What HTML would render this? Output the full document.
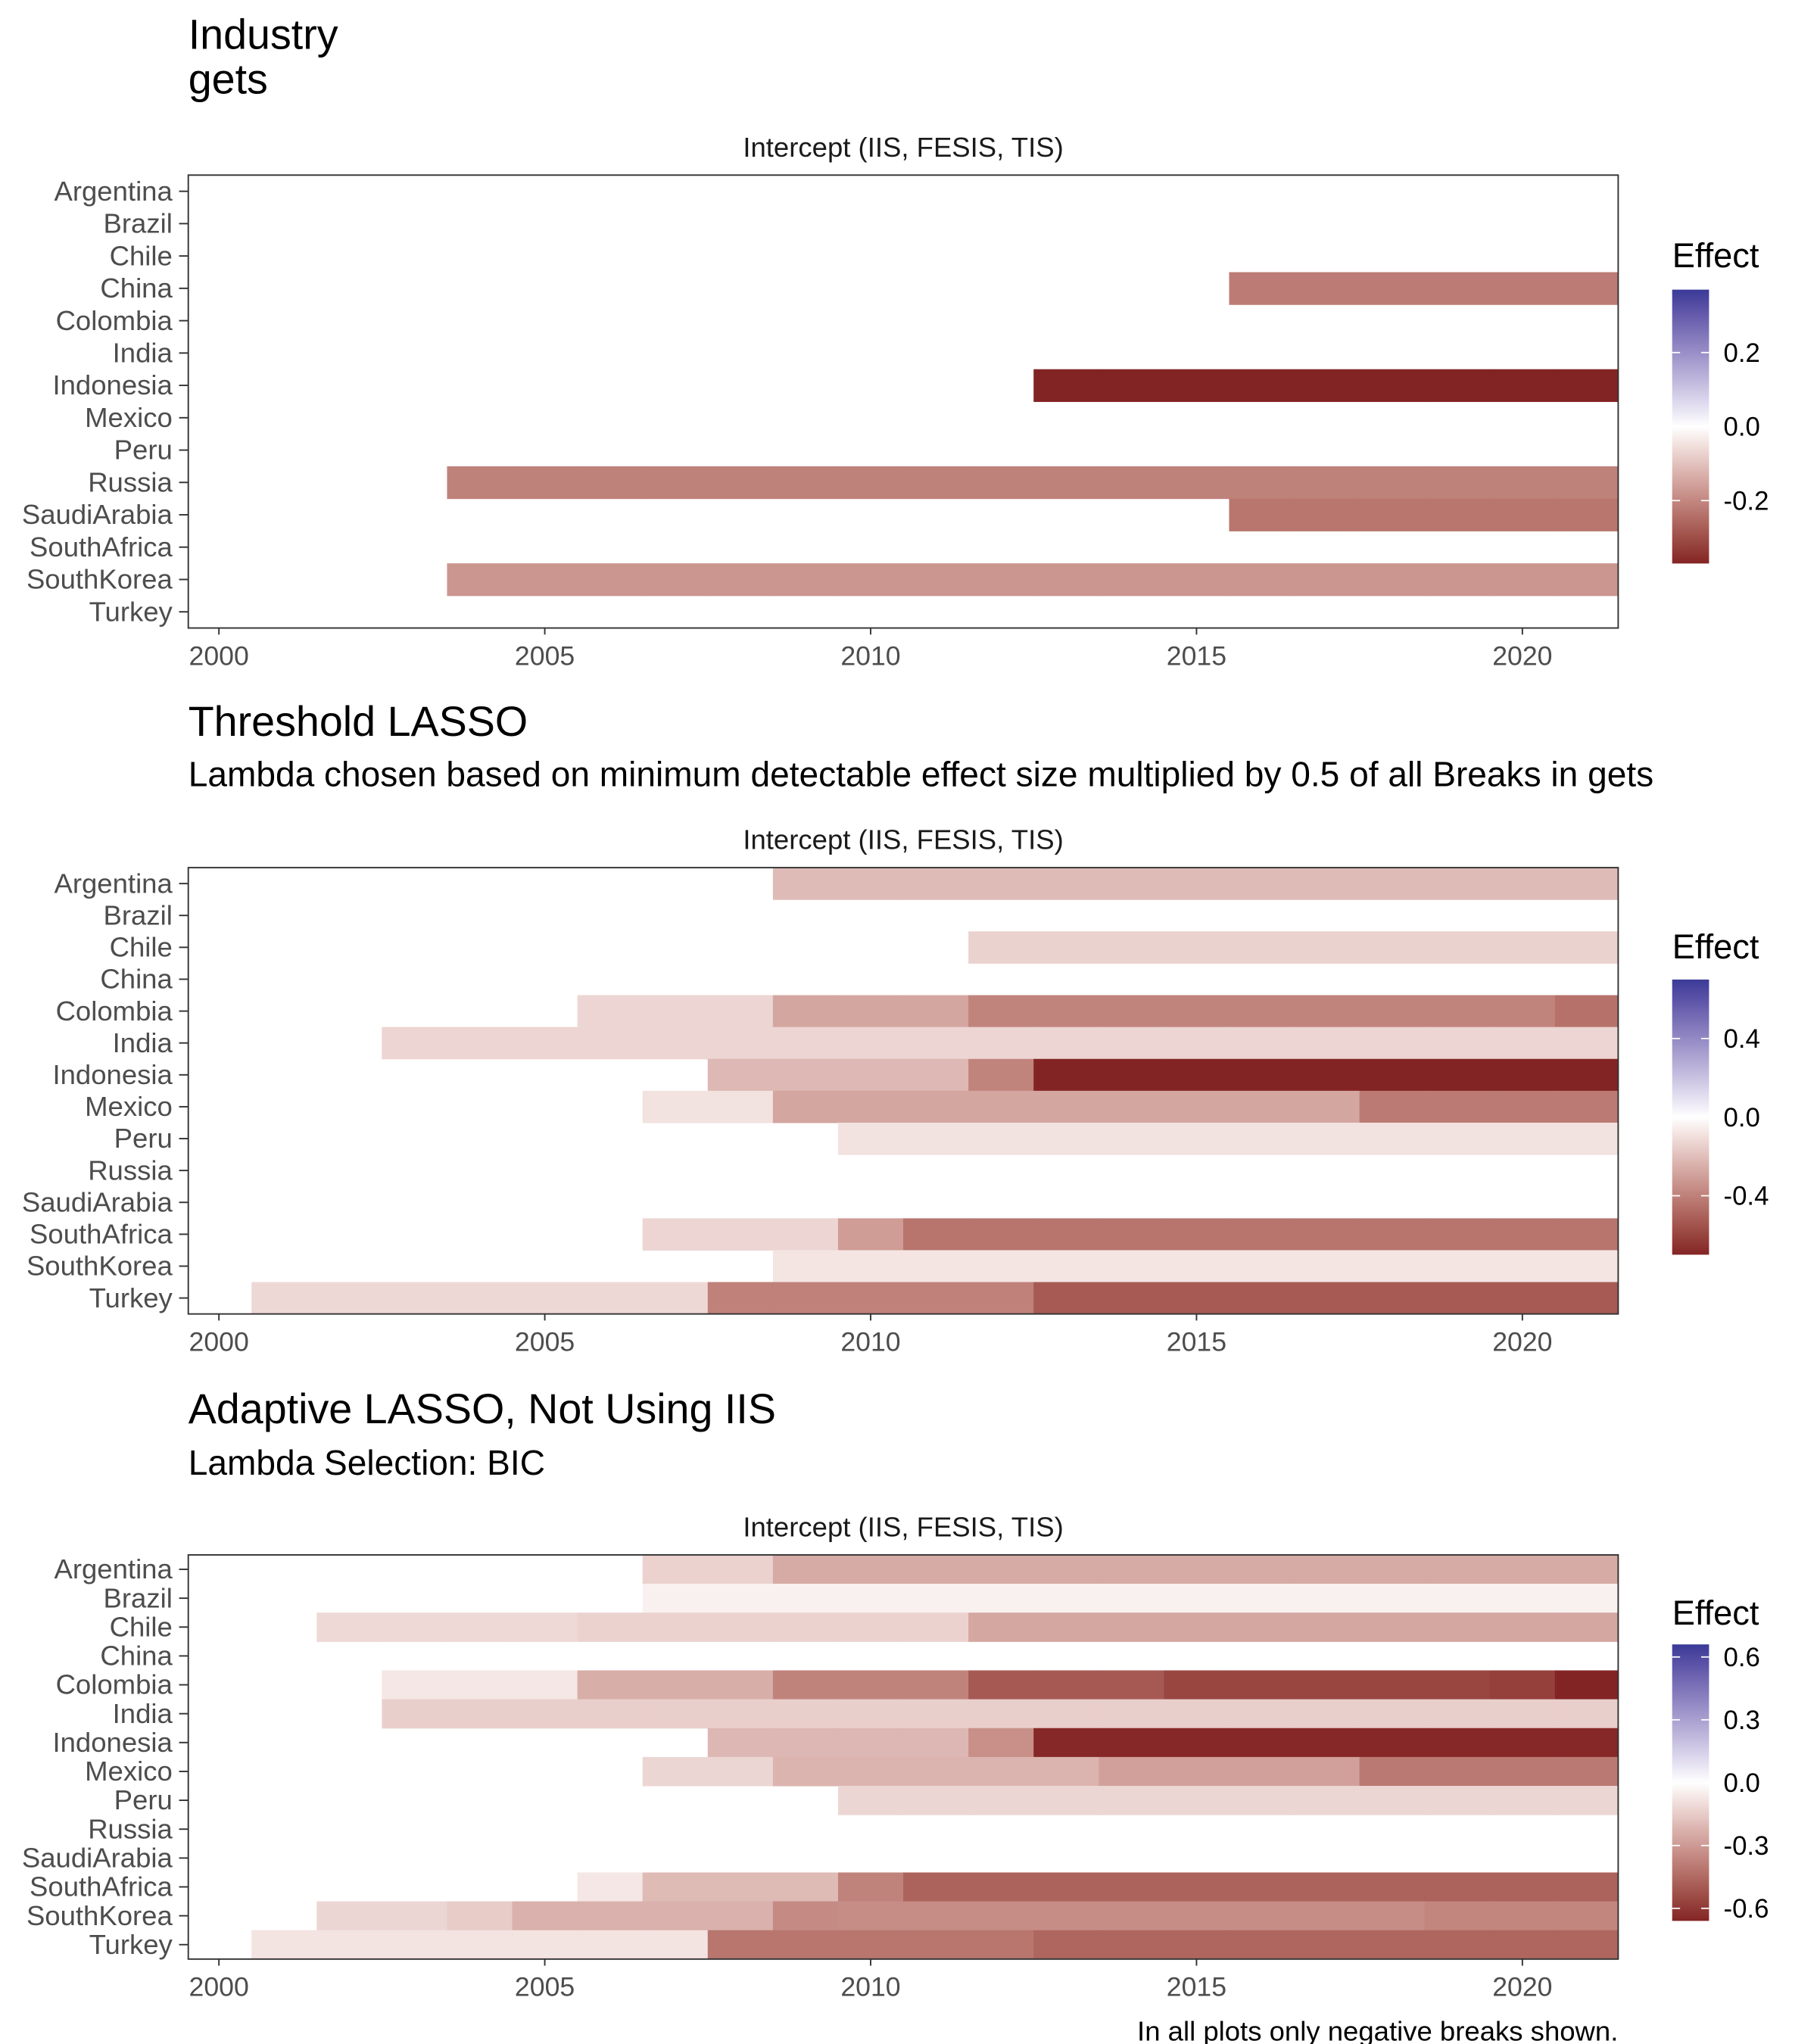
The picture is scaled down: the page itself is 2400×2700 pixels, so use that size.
<!DOCTYPE html>
<html><head><meta charset="utf-8"><style>
html,body{margin:0;padding:0;background:#fff;}
svg{display:block;font-family:"Liberation Sans",Arial,sans-serif;}
</style></head><body>
<svg id="chart" width="2400" height="2700" viewBox="0 0 1380 1552.5" xmlns="http://www.w3.org/2000/svg">
<rect width="1380" height="1552.5" fill="#fff"/>
<text x="143" y="37" font-size="32" fill="#000">Industry</text>
<text x="143" y="71" font-size="32" fill="#000">gets</text>
<text x="143" y="559" font-size="32" fill="#000">Threshold LASSO</text>
<text x="143" y="597" font-size="26.5" fill="#000">Lambda chosen based on minimum detectable effect size multiplied by 0.5 of all Breaks in gets</text>
<text x="143" y="1081" font-size="32" fill="#000">Adaptive LASSO, Not Using IIS</text>
<text x="143" y="1120" font-size="26.5" fill="#000">Lambda Selection: BIC</text>
<text x="1229" y="1550" font-size="21" text-anchor="end" fill="#000">In all plots only negative breaks shown.</text>
<g id="panels"></g>
</svg>
<script>
const countries = ["Argentina","Brazil","Chile","China","Colombia","India","Indonesia","Mexico","Peru","Russia","SaudiArabia","SouthAfrica","SouthKorea","Turkey"];
const xTicks = [2000,2005,2010,2015,2020];

// Panel 1: gets
const p1Country = ["China","Indonesia","Russia","SaudiArabia","SouthKorea"];
const p1Start   = [2016,2013,2004,2016,2004];
const p1End     = [2021,2021,2021,2021,2021];
const p1Value   = [-0.22,-0.37,-0.21,-0.23,-0.175];
const p1Limit = 0.37;
const p1LegendTicks = [-0.2,0.0,0.2];

// Panel 2: Threshold LASSO
const p2Country = ["Argentina","Chile","Colombia","Colombia","Colombia","Colombia","India","Indonesia","Indonesia","Indonesia","Mexico","Mexico","Mexico","Peru","SouthAfrica","SouthAfrica","SouthAfrica","SouthKorea","Turkey","Turkey","Turkey"];
const p2Start   = [2009,2012,2006,2009,2012,2021,2003,2008,2012,2013,2007,2009,2018,2010,2007,2010,2011,2009,2001,2008,2013];
const p2End     = [2021,2021,2008,2011,2020,2021,2021,2011,2012,2021,2008,2017,2021,2021,2009,2010,2021,2021,2007,2012,2021];
const p2Value   = [-0.21,-0.14,-0.13,-0.28,-0.39,-0.45,-0.13,-0.22,-0.39,-0.70,-0.09,-0.28,-0.42,-0.09,-0.13,-0.31,-0.44,-0.08,-0.12,-0.40,-0.53];
const p2Limit = 0.70;
const p2LegendTicks = [-0.4,0.0,0.4];

// Panel 3: Adaptive LASSO
const p3Country = ["Argentina","Argentina","Brazil","Chile","Chile","Chile","Colombia","Colombia","Colombia","Colombia","Colombia","Colombia","Colombia","India","Indonesia","Indonesia","Indonesia","Mexico","Mexico","Mexico","Mexico","Peru","SouthAfrica","SouthAfrica","SouthAfrica","SouthAfrica","SouthKorea","SouthKorea","SouthKorea","SouthKorea","SouthKorea","SouthKorea","Turkey","Turkey","Turkey"];
const p3Start   = [2007,2009,2007,2002,2006,2012,2003,2006,2009,2012,2015,2020,2021,2003,2008,2012,2013,2007,2009,2014,2018,2010,2006,2007,2010,2011,2002,2004,2005,2009,2010,2019,2001,2008,2013];
const p3End     = [2008,2021,2021,2005,2011,2021,2005,2008,2011,2014,2019,2020,2021,2021,2011,2012,2021,2008,2013,2017,2021,2021,2006,2009,2010,2021,2003,2004,2008,2009,2018,2021,2007,2012,2021];
const p3Value   = [-0.13,-0.25,-0.04,-0.11,-0.13,-0.26,-0.07,-0.24,-0.37,-0.50,-0.56,-0.58,-0.66,-0.14,-0.21,-0.33,-0.65,-0.12,-0.22,-0.28,-0.40,-0.12,-0.07,-0.20,-0.37,-0.47,-0.12,-0.15,-0.23,-0.35,-0.34,-0.36,-0.08,-0.41,-0.46];
const p3Limit = 0.66;
const p3LegendTicks = [-0.6,-0.3,0.0,0.3,0.6];

const NS = "http://www.w3.org/2000/svg";
function mk(tag, attrs, parent){const e=document.createElementNS(NS,tag);for(const k in attrs)e.setAttribute(k,attrs[k]);if(parent)parent.appendChild(e);return e;}

function s2l(c){c/=255;return c<=0.04045?c/12.92:Math.pow((c+0.055)/1.055,2.4);}
function l2s(c){c=c<=0.0031308?12.92*c:1.055*Math.pow(c,1/2.4)-0.055;return Math.max(0,Math.min(255,Math.round(c*255)));}
function hex2lab(h){const r=s2l(parseInt(h.substr(1,2),16)),g=s2l(parseInt(h.substr(3,2),16)),b=s2l(parseInt(h.substr(5,2),16));
 let X=(0.4124*r+0.3576*g+0.1805*b)/0.95047,Y=(0.2126*r+0.7152*g+0.0722*b),Z=(0.0193*r+0.1192*g+0.9505*b)/1.08883;
 const f=t=>t>0.008856?Math.cbrt(t):7.787*t+16/116;const fx=f(X),fy=f(Y),fz=f(Z);return [116*fy-16,500*(fx-fy),200*(fy-fz)];}
function lab2rgb(L){const fy=(L[0]+16)/116,fx=fy+L[1]/500,fz=fy-L[2]/200;const fi=t=>t*t*t>0.008856?t*t*t:(t-16/116)/7.787;
 const X=fi(fx)*0.95047,Y=fi(fy),Z=fi(fz)*1.08883;
 const r=3.2406*X-1.5372*Y-0.4986*Z,g=-0.9689*X+1.8758*Y+0.0415*Z,b=0.0557*X-0.2040*Y+1.0570*Z;
 return "rgb("+l2s(r)+","+l2s(g)+","+l2s(b)+")";}
const LOW=hex2lab("#832424"),MID=hex2lab("#FFFFFF"),HIGH=hex2lab("#3A3A98");
function colorFor(v,lim){let t=Math.max(-1,Math.min(1,v/lim));const a=t<0?LOW:HIGH;t=Math.abs(t);
 return lab2rgb([MID[0]+(a[0]-MID[0])*t,MID[1]+(a[1]-MID[1])*t,MID[2]+(a[2]-MID[2])*t]);}

const PX0=143,PX1=1229,YEAR0=1999.53,YEAR1=2021.47;
function xScale(yr){return PX0+(yr-YEAR0)/(YEAR1-YEAR0)*(PX1-PX0);}

function drawPanel(idx, top, bottom, stripY, cArr, sArr, eArr, vArr, lim, legTop, legBot, legTicks, effectY){
 const root=document.getElementById("panels");
 const g=mk("g",{},root);
 
 
 const band=(bottom-top)/countries.length;
 const yScale=c=>top+countries.indexOf(c)*band;
 const st=mk("text",{x:(PX0+PX1)/2,y:stripY,"font-size":21,"text-anchor":"middle",fill:"#1a1a1a"},g);
 st.textContent="Intercept (IIS, FESIS, TIS)";
 
 
 const cells=mk("g",{},g);
 
 
 for(let i=0;i<cArr.length;i++){
  for(let yr=sArr[i];yr<=eArr[i];yr++){
   const x0=Math.max(PX0,xScale(yr-0.5)),x1=Math.min(PX1,xScale(yr+0.5));
   const r=mk("rect",{x:x0,y:yScale(cArr[i]),width:x1-x0+0.3,height:band+0.3,fill:colorFor(vArr[i],lim)},cells);
   
   
  }
 }
 const fr=mk("rect",{x:PX0,y:top,width:PX1-PX0,height:bottom-top,fill:"none",stroke:"#333","stroke-width":1.1},g);
 
 
 countries.forEach((c,i)=>{
  const yc=top+(i+0.5)*band;
  const tk=mk("line",{x1:136,x2:PX0,y1:yc,y2:yc,stroke:"#333","stroke-width":1.1},g);
  
  
  const t=mk("text",{x:131,y:yc+7,"font-size":21,"text-anchor":"end",fill:"#4D4D4D"},g);
  t.textContent=c;
  
  
 });
 xTicks.forEach(v=>{
  const x=xScale(v);
  const tk=mk("line",{x1:x,x2:x,y1:bottom,y2:bottom+5,stroke:"#333","stroke-width":1.1},g);
  
  
  const t=mk("text",{x:x,y:bottom+28,"font-size":20.5,"text-anchor":"middle",fill:"#4D4D4D"},g);
  t.textContent=String(v);
  
  
 });
 const lg=mk("g",{},g);
 
 
 const et=mk("text",{x:1270,y:effectY,"font-size":26,fill:"#000"},lg);
 et.textContent="Effect";
 
 
 const gid="grad"+idx;
 const defs=mk("defs",{},lg);
 const grad=mk("linearGradient",{id:gid,x1:0,y1:0,x2:0,y2:1},defs);
 for(let k=0;k<=40;k++){const v=lim-2*lim*k/40;mk("stop",{offset:(k/40),"stop-color":colorFor(v,lim)},grad);}
 const bar=mk("rect",{x:1270,y:legTop,width:28,height:legBot-legTop,fill:"url(#"+gid+")"},lg);
 
 
 const ly=v=>legTop+(lim-v)/(2*lim)*(legBot-legTop);
 legTicks.forEach(v=>{
  const y=ly(v);
  mk("line",{x1:1270,x2:1276,y1:y,y2:y,stroke:"#fff","stroke-width":1},lg);
  mk("line",{x1:1292,x2:1298,y1:y,y2:y,stroke:"#fff","stroke-width":1},lg);
  const t=mk("text",{x:1309,y:y+7,"font-size":20,fill:"#000"},lg);
  t.textContent=v.toFixed(1);
  
  
 });
}
drawPanel(1,133,477,119,p1Country,p1Start,p1End,p1Value,p1Limit,220,428,p1LegendTicks,203);
drawPanel(2,659,998,645,p2Country,p2Start,p2End,p2Value,p2Limit,744,953,p2LegendTicks,728);
drawPanel(3,1181,1488,1167,p3Country,p3Start,p3End,p3Value,p3Limit,1249,1459,p3LegendTicks,1234);
</script>
</body></html>
